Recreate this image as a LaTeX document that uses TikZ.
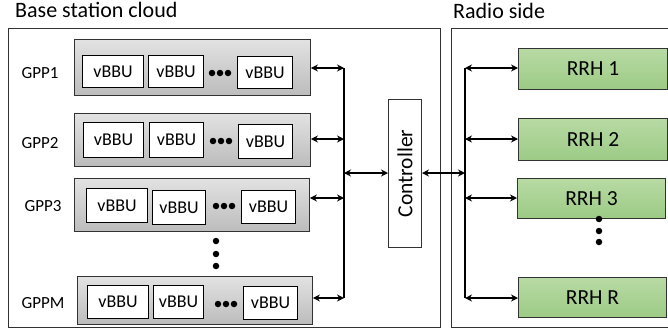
\documentclass[tikz,border=0pt]{standalone}
\usepackage{fontspec}
\setmainfont{Carlito}
\usetikzlibrary{arrows.meta}
\definecolor{gpptop}{RGB}{226,226,226}
\definecolor{gppbot}{RGB}{188,188,188}
\definecolor{rrhtop}{RGB}{184,218,164}
\definecolor{rrhbot}{RGB}{156,203,133}
\definecolor{edge}{RGB}{50,50,50}
\tikzset{
  region/.style={draw=edge, line width=0.9pt, inner sep=0pt, anchor=north west},
  gppbox/.style={draw=edge, line width=0.9pt, top color=gpptop, bottom color=gppbot, inner sep=0pt, anchor=north west},
  vbbu/.style={draw=black, line width=1pt, fill=white, inner sep=0pt, anchor=north west, font=\fontsize{18}{21}\selectfont},
  rrh/.style={draw=edge, line width=1pt, top color=rrhtop, bottom color=rrhbot, inner sep=0pt, anchor=north west, font=\fontsize{21.5}{24}\selectfont},
  ctrlbox/.style={draw=edge, line width=1pt, fill=white, inner sep=0pt, anchor=north west},
  lbl/.style={font=\fontsize{17}{20}\selectfont, inner sep=0pt},
  title/.style={font=\fontsize{22}{26}\selectfont, inner sep=0pt, anchor=base west},
  link/.style={line width=1.8pt, {Stealth[length=7pt,width=7pt]}-{Stealth[length=7pt,width=7pt]}},
  bus/.style={line width=2pt},
  dot/.style={circle, fill=black, inner sep=0pt, minimum size=6.5pt}
}
\begin{document}
\begin{tikzpicture}[x=1pt,y=-1pt]
\useasboundingbox (0,0) rectangle (668,333);
% regions
\node[region, minimum width=432pt, minimum height=299pt] (cloud) at (8,28) {};
\node[region, minimum width=225pt, minimum height=299pt] (radio) at (451,28) {};
\node[title] (tcloud) at (15,17) {Base station cloud};
\node[title] (tradio) at (453,18.5) {Radio side};
% GPP boxes
\node[gppbox, minimum width=236pt, minimum height=56pt] (gpp1) at (74,39) {};
\node[gppbox, minimum width=236pt, minimum height=53pt] (gpp2) at (74,113) {};
\node[gppbox, minimum width=235pt, minimum height=53pt] (gpp3) at (74,178) {};
\node[gppbox, minimum width=235pt, minimum height=48pt] (gppm) at (77,276) {};
% labels
\node[lbl] (l1) at (40,73) {GPP1};
\node[lbl] (l2) at (40,143) {GPP2};
\node[lbl] (l3) at (43,206) {GPP3};
\node[lbl] (lm) at (43,303) {GPPM};
% vBBUs GPP1
\node[vbbu, minimum width=61pt, minimum height=32pt] (v11) at (82,55) {vBBU};
\node[vbbu, minimum width=55pt, minimum height=32pt] (v12) at (148,55) {vBBU};
\node[vbbu, minimum width=55pt, minimum height=32pt] (v13) at (237,56) {vBBU};
\node[dot] (d11) at (212,73) {};
\node[dot] (d12) at (220,73) {};
\node[dot] (d13) at (228,73) {};
% GPP2
\node[vbbu, minimum width=60pt, minimum height=35pt] (v21) at (83,122) {vBBU};
\node[vbbu, minimum width=54pt, minimum height=35pt] (v22) at (149,122) {vBBU};
\node[vbbu, minimum width=54pt, minimum height=34pt] (v23) at (238,124) {vBBU};
\node[dot] (d21) at (213,141) {};
\node[dot] (d22) at (221,141) {};
\node[dot] (d23) at (229,141) {};
% GPP3
\node[vbbu, minimum width=61pt, minimum height=34pt] (v31) at (86,188) {vBBU};
\node[vbbu, minimum width=53pt, minimum height=34pt] (v32) at (152,190) {vBBU};
\node[vbbu, minimum width=54pt, minimum height=33pt] (v33) at (241,190) {vBBU};
\node[dot] (d31) at (216,206) {};
\node[dot] (d32) at (224,206) {};
\node[dot] (d33) at (232,206) {};
% GPPM
\node[vbbu, minimum width=61pt, minimum height=33pt] (vm1) at (87,285) {vBBU};
\node[vbbu, minimum width=50pt, minimum height=33pt] (vm2) at (153,285) {vBBU};
\node[vbbu, minimum width=54pt, minimum height=33pt] (vm3) at (243,286) {vBBU};
\node[dot] (dm1) at (218,304) {};
\node[dot] (dm2) at (226,304) {};
\node[dot] (dm3) at (234,304) {};
% vertical dots
\node[dot] (vd1) at (216,241) {};
\node[dot] (vd2) at (216,254) {};
\node[dot] (vd3) at (216,266) {};
% controller
\node[ctrlbox, minimum width=33pt, minimum height=148pt] (ctrl) at (388,99) {};
\node[lbl, rotate=90, font=\fontsize{21.5}{24}\selectfont] (ctrltxt) at (ctrl.center) {Controller};
% RRHs
\node[rrh, minimum width=149pt, minimum height=41pt] (rrh1) at (518,48) {RRH 1};
\node[rrh, minimum width=149pt, minimum height=42pt] (rrh2) at (518,118) {RRH 2};
\node[rrh, minimum width=148pt, minimum height=40pt] (rrh3) at (517,178) {RRH 3};
\node[rrh, minimum width=148pt, minimum height=40pt] (rrhr) at (518,277) {RRH R};
\node[dot] (rd1) at (599,219) {};
\node[dot] (rd2) at (599,231) {};
\node[dot] (rd3) at (599,242) {};
% bus coordinates
\coordinate (b1) at (344,68);
\coordinate (b2) at (344,139);
\coordinate (b3) at (344,198);
\coordinate (bm) at (344,298);
\coordinate (bc) at (344,173);
\coordinate (r1) at (465,68);
\coordinate (r2) at (465,139);
\coordinate (r3) at (465,198);
\coordinate (rr) at (465,298);
\coordinate (rc) at (465,173);
% buses
\draw[bus] (b1) -- (bm);
\draw[bus] (r1) -- (rr);
% links
\draw[link] (gpp1.east |- b1) -- (b1);
\draw[link] (gpp2.east |- b2) -- (b2);
\draw[link] (gpp3.east |- b3) -- (b3);
\draw[link] (gppm.east |- bm) -- (bm);
\draw[link] (bc) -- (ctrl.west |- bc);
\draw[link] (ctrl.east |- rc) -- (rc);
\draw[link] (r1) -- (rrh1.west |- r1);
\draw[link] (r2) -- (rrh2.west |- r2);
\draw[link] (r3) -- (rrh3.west |- r3);
\draw[link] (rr) -- (rrhr.west |- rr);
\end{tikzpicture}
\end{document}
